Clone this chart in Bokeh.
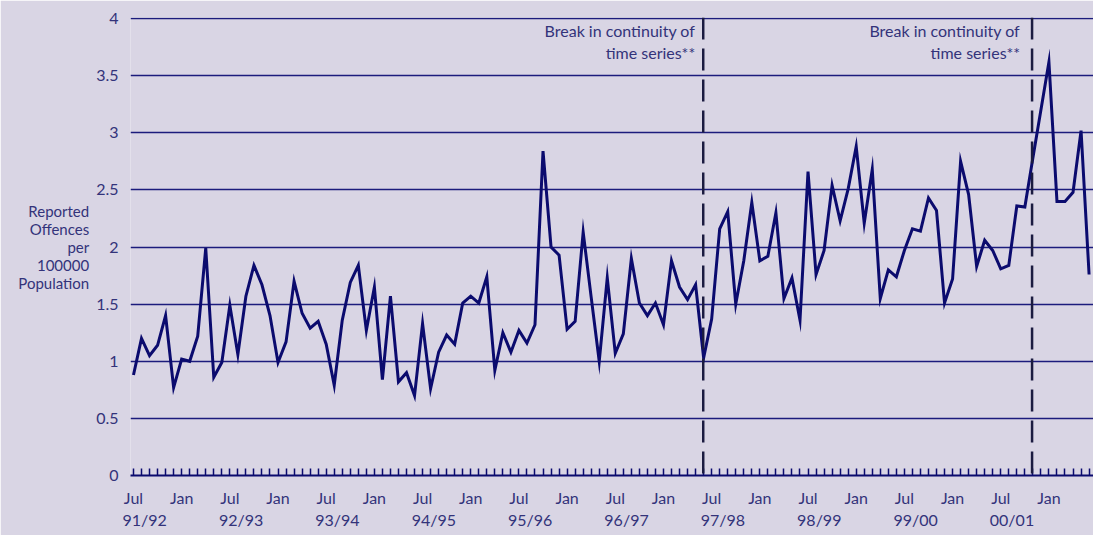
from bokeh.plotting import figure
from bokeh.models import (Range1d, FixedTicker, LinearAxis, Span, Label,
                          ColumnDataSource)
from bokeh.embed import file_html
from bokeh.resources import INLINE

# ---- data (monthly, Jul 1991 .. Jun 2001) ----
values = [
    0.88, 1.20, 1.05, 1.14, 1.40, 0.77, 1.02, 1.00, 1.22, 1.99, 0.86, 0.99,
    1.49, 1.06, 1.57, 1.84, 1.67, 1.40, 0.99, 1.17, 1.70, 1.42, 1.29, 1.35,
    1.15, 0.79, 1.36, 1.69, 1.84, 1.27, 1.65, 0.84, 1.57, 0.82, 0.90, 0.70,
    1.33, 0.76, 1.08, 1.23, 1.15, 1.51, 1.57, 1.51, 1.74, 0.92, 1.25, 1.08,
    1.27, 1.16, 1.32, 2.84, 2.00, 1.93, 1.28, 1.35, 2.13, 1.56, 1.00, 1.73,
    1.07, 1.24, 1.90, 1.51, 1.40, 1.51, 1.32, 1.88, 1.65, 1.54, 1.67, 1.03,
    1.37, 2.16, 2.31, 1.50, 1.88, 2.39, 1.88, 1.92, 2.30, 1.55, 1.73, 1.36,
    2.66, 1.76, 1.97, 2.54, 2.23, 2.51, 2.88, 2.21, 2.68, 1.55, 1.80, 1.74,
    1.97, 2.16, 2.14, 2.43, 2.32, 1.51, 1.72, 2.75, 2.46, 1.83, 2.06, 1.97,
    1.81, 1.84, 2.36, 2.35, 2.78, 3.20, 3.62, 2.40, 2.40, 2.48, 3.02, 1.76,
]
months = list(range(len(values)))

month_labels = ["Jul", "Jan"]
year_labels = ["91/92", "92/93", "93/94", "94/95", "95/96",
               "96/97", "97/98", "98/99", "99/00", "00/01"]
y_ticks = [0, 0.5, 1, 1.5, 2, 2.5, 3, 3.5, 4]
y_tick_labels = ["0", "0.5", "1", "1.5", "2", "2.5", "3", "3.5", "4"]
breaks = [70.95, 111.9]
break_text = "Break in continuity of\ntime series**"
y_title = "Reported\nOffences\nper\n100000\nPopulation"

BG = "#D9D5E4"
NAVY = "#0B0B6E"
GRID = "#1C1C7C"
TXT = "#33337A"
FONT = "Lato"

p = figure(width=1093, height=535, output_backend="svg", toolbar_location=None,
           x_range=Range1d(-0.37, 119.55), y_range=Range1d(0, 4.01),
           x_axis_type=None, y_axis_location="left")
p.min_border_left = 130
p.min_border_right = 0
p.min_border_top = 17
p.min_border_bottom = 60
p.background_fill_color = BG
p.border_fill_color = BG
p.outline_line_color = None

# y axis
p.yaxis.ticker = FixedTicker(ticks=y_ticks)
p.yaxis.major_label_overrides = {float(t): l for t, l in zip(y_ticks, y_tick_labels)}
p.yaxis.axis_line_color = None
p.yaxis.major_tick_line_color = None
p.yaxis.minor_tick_line_color = None
p.yaxis.major_tick_out = 0
p.yaxis.major_tick_in = 0
p.yaxis.major_label_standoff = 12
p.yaxis.major_label_text_font = FONT
p.yaxis.major_label_text_font_size = "16px"
p.yaxis.major_label_text_color = TXT
p.yaxis.axis_label = y_title
p.yaxis.axis_label_orientation = "horizontal"
p.yaxis.axis_label_standoff = 4
p.yaxis.axis_label_text_font = FONT
p.yaxis.axis_label_text_font_style = "normal"
p.yaxis.axis_label_text_font_size = "15px"
p.yaxis.axis_label_text_color = TXT
p.yaxis.axis_label_text_line_height = 1.0

p.ygrid.ticker = FixedTicker(ticks=y_ticks)
p.ygrid.grid_line_color = GRID
p.ygrid.grid_line_width = 1.5
p.xgrid.grid_line_color = None

# x axis: monthly ticks, Jul / Jan labels
tick_pos = list(range(0, 120))
overrides = {}
for m in tick_pos:
    if m % 12 == 0:
        overrides[m] = month_labels[0]
    elif m % 12 == 6:
        overrides[m] = month_labels[1]
    else:
        overrides[m] = ""
xa = LinearAxis(ticker=FixedTicker(ticks=tick_pos), major_label_overrides=overrides)
xa.axis_line_color = NAVY
xa.axis_line_width = 2
xa.major_tick_line_color = NAVY
xa.major_tick_line_width = 1.5
xa.major_tick_in = 7
xa.major_tick_out = 0
xa.minor_tick_line_color = None
xa.major_label_standoff = 12
xa.major_label_text_font = FONT
xa.major_label_text_font_size = "16px"
xa.major_label_text_color = TXT
p.add_layout(xa, "below")

# x axis: financial-year labels
ypos = [12 * i + 1.4 for i in range(len(year_labels))]
xb = LinearAxis(ticker=FixedTicker(ticks=ypos),
                major_label_overrides={float(v): l for v, l in zip(ypos, year_labels)})
xb.axis_line_color = None
xb.major_tick_line_color = None
xb.minor_tick_line_color = None
xb.major_tick_in = 0
xb.major_tick_out = 0
xb.major_label_standoff = 0
xb.major_label_text_font = FONT
xb.major_label_text_font_size = "16px"
xb.major_label_text_color = TXT
p.add_layout(xb, "below")

src = ColumnDataSource(dict(x=months, y=values))
p.line("x", "y", source=src, line_color=NAVY, line_width=3, line_join="miter")

for b, off in zip(breaks, [-8, -12]):
    p.add_layout(Span(location=b, dimension="height", line_color="#1B1B40",
                      line_width=2.5, line_dash="22 9"))
    p.add_layout(Label(x=b, y=3.98, x_offset=off, text=break_text,
                       text_align="right", text_baseline="top",
                       text_font=FONT, text_font_size="16px",
                       text_color=TXT, text_line_height=1.15))

open("out.html", "w").write(file_html(p, INLINE))
